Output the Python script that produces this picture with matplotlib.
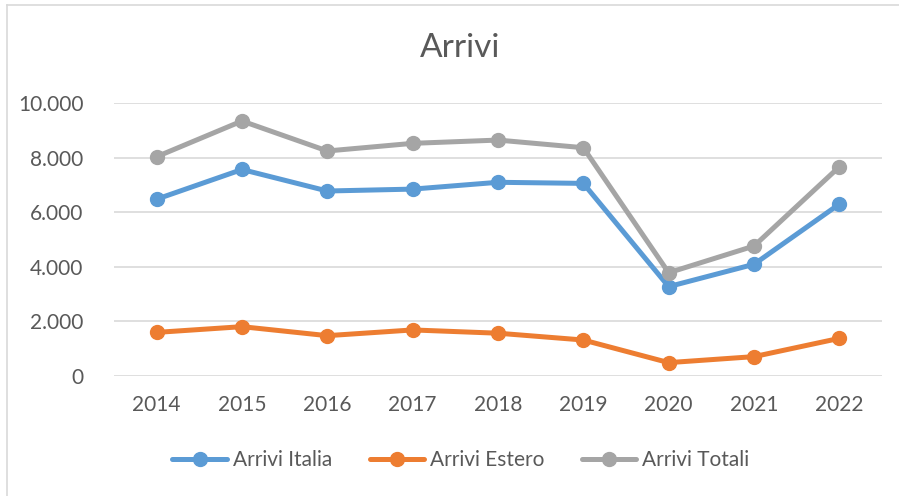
import matplotlib
matplotlib.use("Agg")
import matplotlib.pyplot as plt
from matplotlib.lines import Line2D
from matplotlib.ticker import FuncFormatter, MultipleLocator

years = ["2014", "2015", "2016", "2017", "2018", "2019", "2020", "2021", "2022"]
arrivi_italia = [6480, 7570, 6780, 6850, 7100, 7060, 3270, 4090, 6300]
arrivi_estero = [1590, 1800, 1470, 1680, 1560, 1310, 480, 700, 1370]
arrivi_totali = [8040, 9350, 8250, 8530, 8650, 8370, 3780, 4760, 7670]

TXT = "#595959"
GRID = "#D9D9D9"
BLUE, ORANGE, GREY = "#5B9BD5", "#ED7D31", "#A5A5A5"

plt.rcParams["font.family"] = ["Lato", "DejaVu Sans"]

W, H = 899, 496
fig = plt.figure(figsize=(W / 100, H / 100), dpi=100)
fig.patch.set_facecolor("white")

# chart border (only left and top visible in the crop)
fig.add_artist(Line2D([7 / W, 7 / W], [0, 1 - 5 / H], transform=fig.transFigure,
                      color=GRID, lw=1.2))
fig.add_artist(Line2D([7 / W, 1], [1 - 5 / H, 1 - 5 / H], transform=fig.transFigure,
                      color=GRID, lw=1.2))

ax = fig.add_axes([114 / W, 120.3 / H, 768 / W, 272.4 / H])
x = range(len(years))
series = [
    (arrivi_italia, "Arrivi Italia", BLUE),
    (arrivi_estero, "Arrivi Estero", ORANGE),
    (arrivi_totali, "Arrivi Totali", GREY),
]
for vals, lbl, col in series:
    ax.plot(x, vals, color=col, lw=3.6, marker="o", markersize=10,
            label=lbl, solid_capstyle="round", zorder=3)

ax.set_xlim(-0.5, len(years) - 0.5)
ax.set_ylim(0, 10000)
ax.yaxis.set_major_locator(MultipleLocator(2000))
ax.yaxis.set_major_formatter(FuncFormatter(lambda v, p: f"{int(v):,}".replace(",", ".")))
ax.set_xticks(list(x))
ax.set_xticklabels(years)
ax.grid(axis="y", color=GRID, lw=1.2, zorder=0)
for s in ax.spines.values():
    s.set_visible(False)
ax.tick_params(axis="both", length=0, labelsize=15, colors=TXT)
ax.tick_params(axis="y", pad=22)
ax.tick_params(axis="x", pad=14)

fig.text(460 / W, 1 - 48 / H, "Arrivi", ha="center", va="center",
         fontsize=24, color=TXT)

leg = fig.legend(loc="center", bbox_to_anchor=(461 / W, 36 / H), ncol=3,
                 frameon=False, fontsize=15, handlelength=2.6,
                 handletextpad=0.3, columnspacing=1.8)
for t in leg.get_texts():
    t.set_color(TXT)

fig.savefig("out.png", dpi=100, facecolor="white")
